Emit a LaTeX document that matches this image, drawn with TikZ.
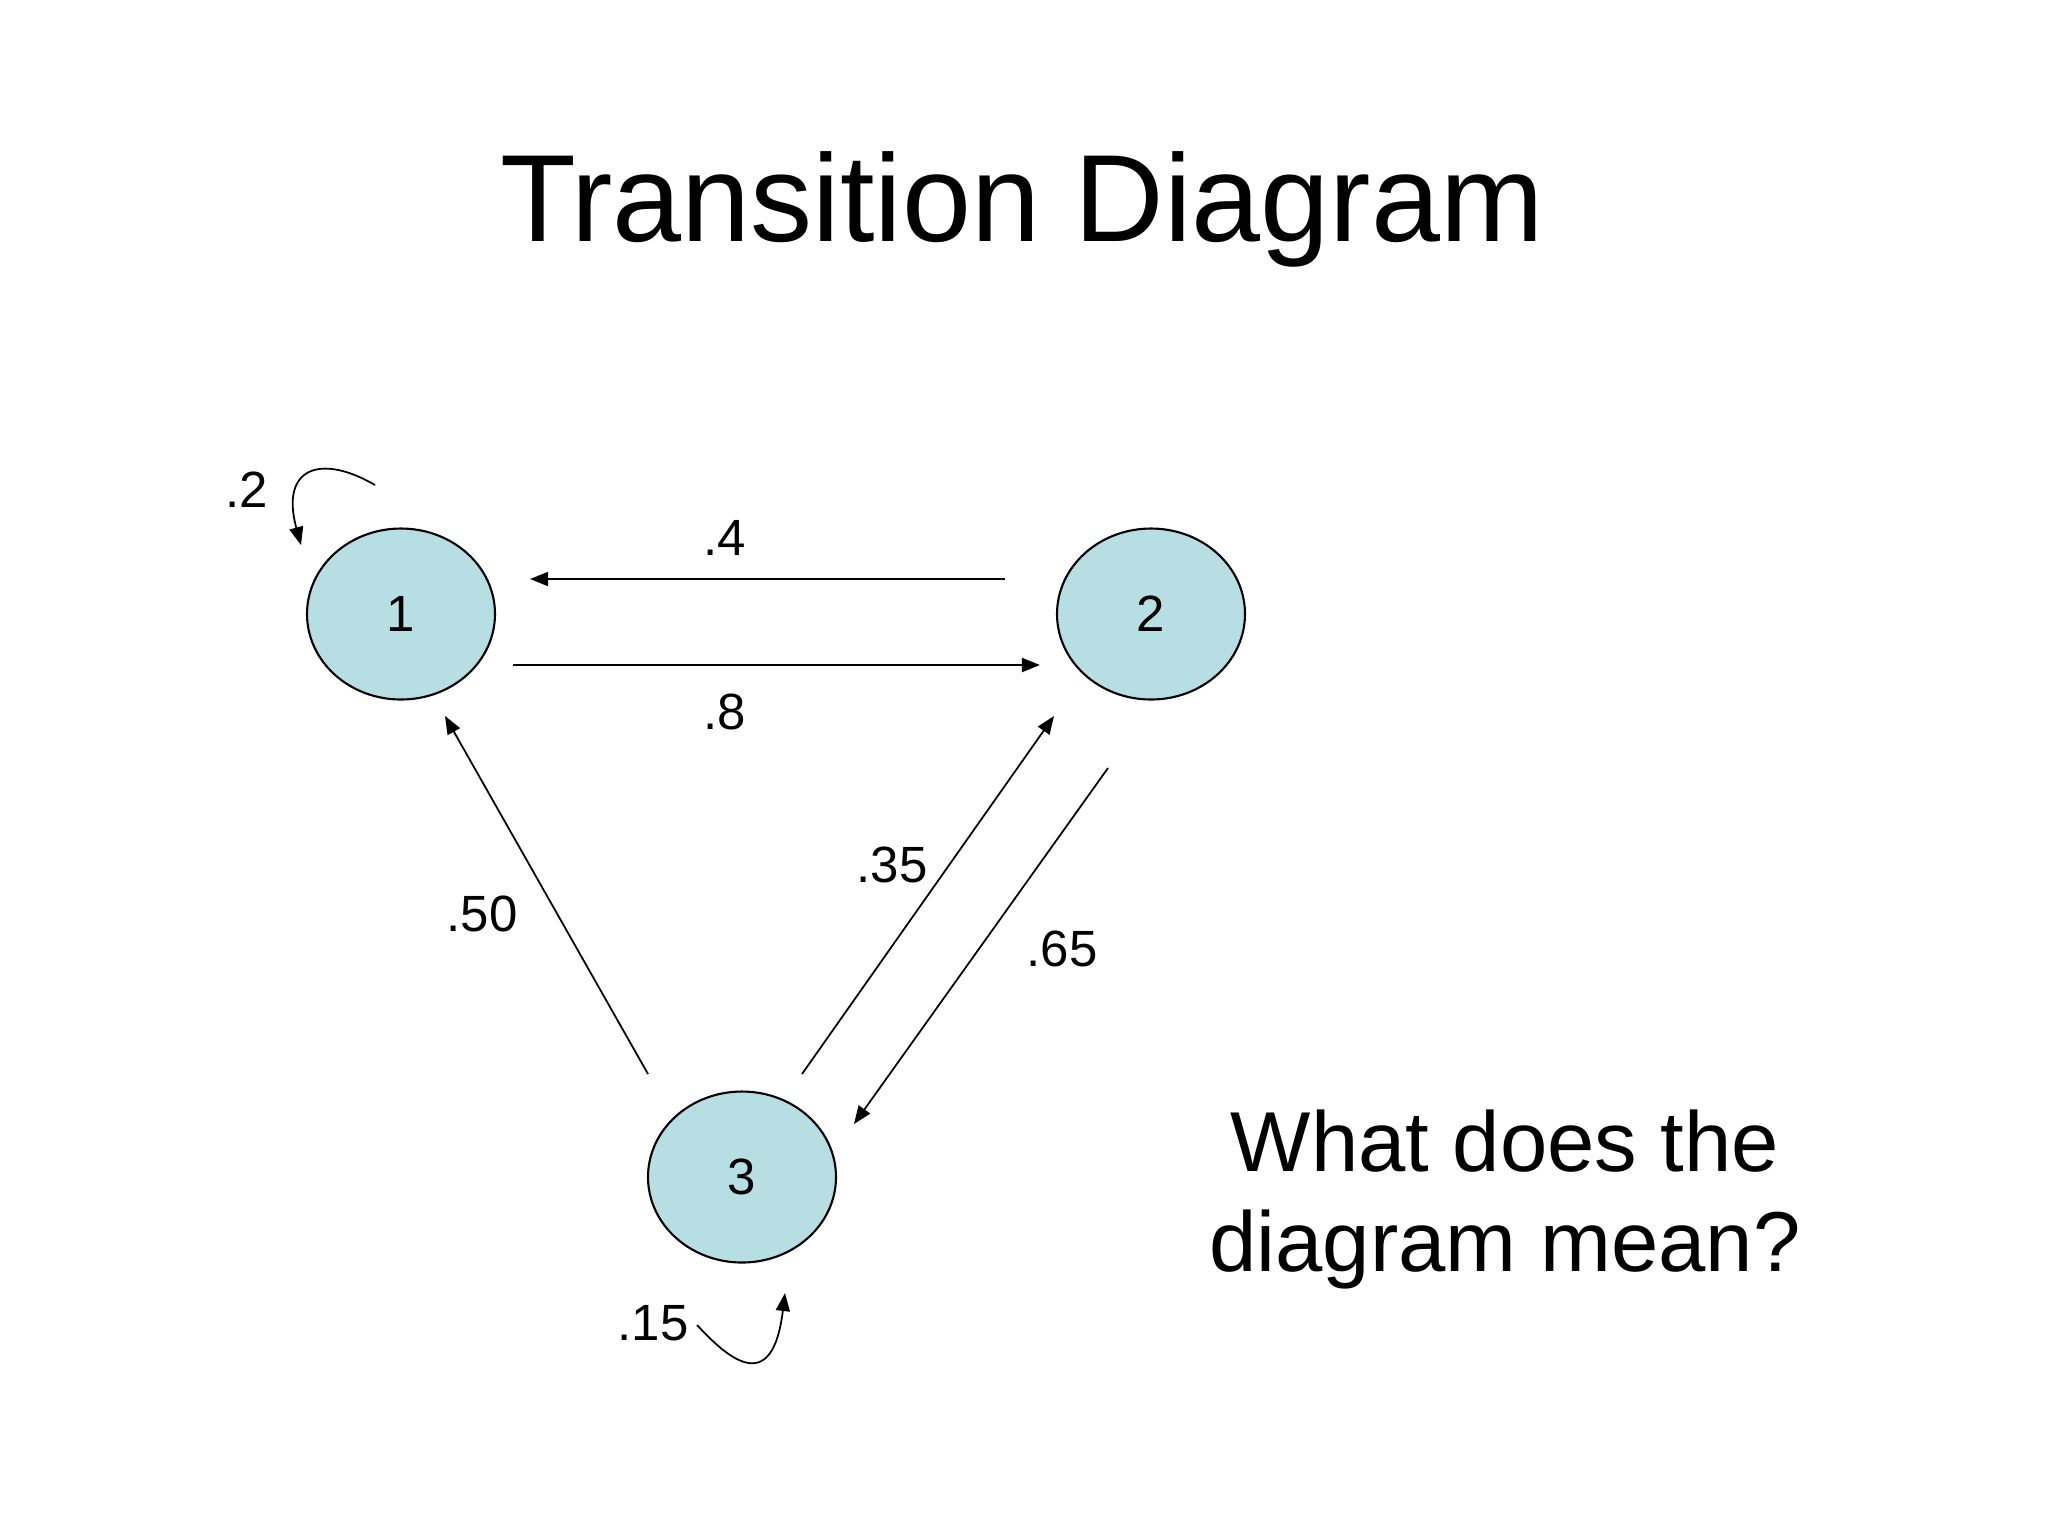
\documentclass[tikz,border=0pt]{standalone}
\usepackage{fontspec}
\setmainfont{Liberation Sans}
\usetikzlibrary{shapes.geometric,arrows.meta,calc}
\definecolor{statefill}{RGB}{183,223,227}
\begin{document}
\begin{tikzpicture}[
x=0.1mm, y=-0.1mm,
state/.style={draw, ellipse, fill=statefill, line width=0.6pt, inner sep=0pt,
  minimum width=18.8mm, minimum height=17.1mm, font=\fontsize{14.5}{17}\selectfont},
prob/.style={font=\fontsize{14.5}{17}\selectfont},
arc/.style={line width=0.5pt, -{Triangle[length=1.8mm,width=1.4mm]}}
]
\useasboundingbox (0,0) rectangle (2048,1536);
\node[anchor=base, font=\fontsize{35.3}{40}\selectfont] (title) at (1022,241) {Transition Diagram};

\node[state] (s1) at (401,614) {1};
\node[state] (s2) at (1151,614) {2};
\node[state] (s3) at (742,1177) {3};

\draw[arc] ($(s2.west)+(-51,-35)$) -- ($(s1.east)+(34,-35)$);
\draw[arc] ($(s1.east)+(17,51)$) -- ($(s2.west)+(-16,51)$);
\draw[arc] ($(s3)+(-94,-103)$) -- ($(s1)+(44,102)$);
\draw[arc] ($(s3)+(60,-103)$) -- ($(s2)+(-97,102)$);
\draw[arc] ($(s2)+(-43,154)$) -- ($(s3)+(112,-53)$);
% self loops
\draw[arc] ($(s1)+(-26,-129)$) .. controls ($(s1)+(-81,-161)$) and ($(s1)+(-121,-146)$) .. ($(s1)+(-100,-69)$);
\draw[arc] ($(s3)+(-45,148)$) .. controls ($(s3)+(-17,178)$) and ($(s3)+(30,223)$) .. ($(s3)+(43,116)$);

\node[prob] (p12) at (725,712) {.8};
\node[prob] (p21) at (725,538) {.4};
\node[prob] (p11) at (247,490) {.2};
\node[prob] (p31) at (482,914) {.50};
\node[prob] (p32) at (892,865) {.35};
\node[prob] (p23) at (1062,949) {.65};
\node[prob] (p33) at (653,1323) {.15};

\node[anchor=base, align=center, font=\fontsize{24.2}{28.2}\selectfont] (question) at (1505,1271) {What does the\\diagram mean?};
\end{tikzpicture}
\end{document}
